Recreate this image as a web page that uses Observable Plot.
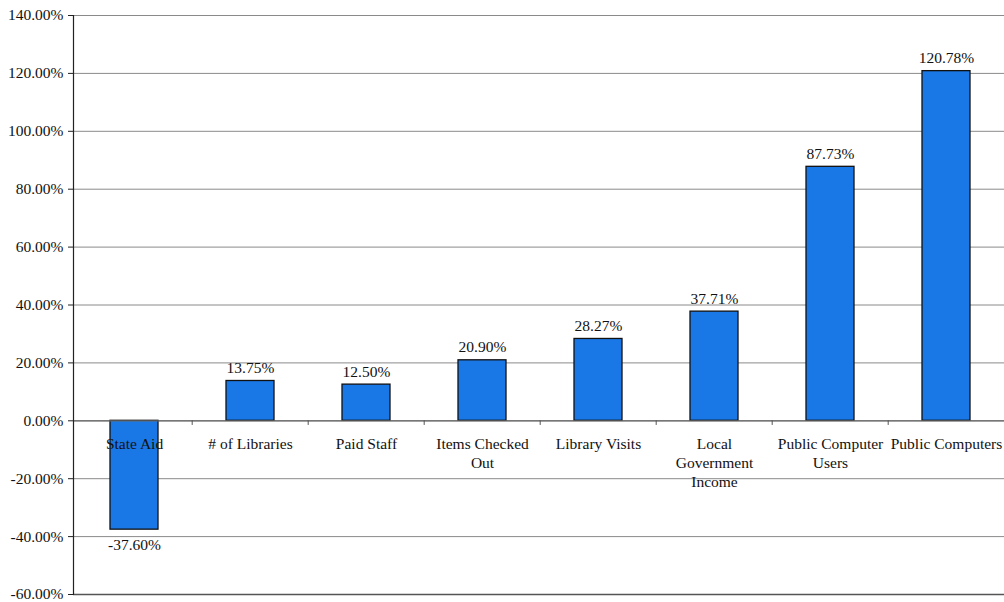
<!DOCTYPE html>
<html>
<head>
<meta charset="utf-8">
<script src="https://cdn.jsdelivr.net/npm/d3@7"></script>
<script src="https://cdn.jsdelivr.net/npm/@observablehq/plot@0.6"></script>
<style>
  html, body { margin: 0; padding: 0; background: #ffffff; }
  svg { display: block; }
</style>
</head>
<body>
<div id="chart"></div>
<script>
const categories = ["State Aid", "# of Libraries", "Paid Staff", "Items Checked\nOut", "Library Visits", "Local\nGovernment\nIncome", "Public Computer\nUsers", "Public Computers"];
const values = [-37.60, 13.75, 12.50, 20.90, 28.27, 37.71, 87.73, 120.78];
const yTicks = [-60, -40, -20, 0, 20, 40, 60, 80, 100, 120, 140];

const data = categories.map((c, i) => ({category: c, value: values[i]}));
const f2 = d3.formatLocale({decimal: ".", thousands: ",", grouping: [3], currency: ["", ""], minus: "-"}).format(".2f");
const fmt = v => f2(v) + "%";
const font = "'Liberation Serif', 'Times New Roman', serif";
const step = 933 / 8;

const chart = Plot.plot({
  width: 1004,
  height: 602,
  marginTop: 15,
  marginBottom: 8,
  marginLeft: 73,
  marginRight: 0,
  style: {fontFamily: font, fontSize: "15.5px", color: "#111", background: "#fff"},
  x: {domain: categories, range: [73, 1006], paddingInner: 0.59, paddingOuter: 0.295, axis: null},
  y: {domain: [-60, 140], ticks: yTicks, tickFormat: fmt, label: null},
  marks: [
    Plot.gridY(yTicks, {stroke: "#8a8a8a", strokeOpacity: 1, strokeWidth: 1}),
    Plot.axisY({ticks: yTicks, tickFormat: fmt, tickSize: 5, tickPadding: 5, fontSize: 15.5, label: null, stroke: "#222"}),
    Plot.barY(data, {x: "category", y: "value", fill: "#1a78e6", stroke: "#111", strokeWidth: 1.3}),
    Plot.ruleY([0], {stroke: "#666", strokeWidth: 1.2}),
    Plot.ruleY([-60], {stroke: "#555", strokeWidth: 1.5}),
    Plot.frame({anchor: "left", stroke: "#222", strokeWidth: 1.2}),
    Plot.ruleX(categories.slice(1), {x: d => d, y1: 0, y2: -1.6, stroke: "#555", dx: -step / 2}),
    Plot.text(data, {x: "category", y: 0, text: "category", lineAnchor: "top", dy: 15, fontSize: 15.5, fill: "#111", lineHeight: 1.23}),
    Plot.text(data.filter(d => d.value >= 0), {x: "category", y: "value", text: d => fmt(d.value), lineAnchor: "bottom", dy: -8, fontSize: 15.5, fill: "#111"}),
    Plot.text(data.filter(d => d.value < 0), {x: "category", y: "value", text: d => fmt(d.value), lineAnchor: "top", dy: 9, fontSize: 15.5, fill: "#111"})
  ]
});
document.getElementById("chart").appendChild(chart);
</script>
</body>
</html>
